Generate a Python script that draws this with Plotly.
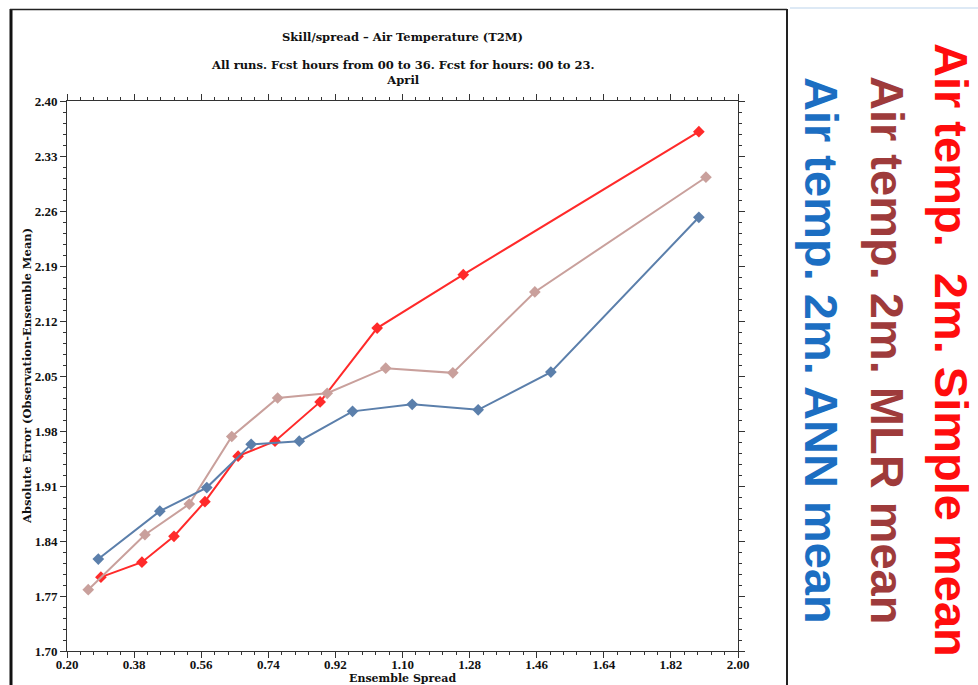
import plotly.graph_objects as go

# Skill/spread relation for 2 m air temperature, three ensemble post-processing methods
simple_spread = [0.291, 0.401, 0.487, 0.570, 0.659, 0.758, 0.879, 1.032, 1.263, 1.895]
simple_error = [1.794, 1.813, 1.846, 1.890, 1.948, 1.967, 2.017, 2.111, 2.179, 2.361]

mlr_spread = [0.257, 0.409, 0.528, 0.642, 0.765, 0.898, 1.055, 1.235, 1.455, 1.914]
mlr_error = [1.778, 1.848, 1.887, 1.973, 2.022, 2.028, 2.060, 2.054, 2.157, 2.303]

ann_spread = [0.284, 0.449, 0.575, 0.694, 0.823, 0.966, 1.126, 1.303, 1.498, 1.895]
ann_error = [1.817, 1.878, 1.908, 1.963, 1.967, 2.005, 2.014, 2.007, 2.055, 2.252]

series_names = ["Air temp.\u00a0\u00a02m. Simple mean", "Air temp. 2m. MLR mean", "Air temp. 2m. ANN mean"]
line_colors = ["#ff2a2a", "#c9a09c", "#5b7fab"]
label_colors = ["#ff0d0d", "#9e3b3b", "#1c6ec2"]

x_ticks = [0.20, 0.38, 0.56, 0.74, 0.92, 1.10, 1.28, 1.46, 1.64, 1.82, 2.00]
y_ticks = [1.70, 1.77, 1.84, 1.91, 1.98, 2.05, 2.12, 2.19, 2.26, 2.33, 2.40]

W, H = 978, 685
L, R, T, B = 67, 738, 101, 651  # plot area in pixels


def px(xp):
    return (xp - L) / (R - L)


def py(yp):
    return (B - yp) / (B - T)


SANS = "Liberation Sans"


def serif(size, family="DejaVu Serif"):
    return dict(family=family, size=size, color="#111111", weight="bold")


fig = go.Figure()
for xs, ys, name, col in zip(
    [simple_spread, mlr_spread, ann_spread],
    [simple_error, mlr_error, ann_error],
    series_names,
    line_colors,
):
    fig.add_trace(
        go.Scatter(
            x=xs, y=ys, mode="lines+markers", name=name,
            line=dict(color=col, width=2),
            marker=dict(symbol="diamond", size=9, color=col),
            showlegend=False,
        )
    )

axis_common = dict(
    showgrid=False, zeroline=False, showline=True, linecolor="#333333", linewidth=1,
    mirror="ticks", ticks="outside", ticklen=6, tickwidth=1, tickcolor="#333333",
    tickfont=serif(13, "Liberation Serif"),
    automargin=False,
)

fig.update_xaxes(
    range=[0.20, 2.00], tickvals=x_ticks, ticktext=[f"{v:.2f}" for v in x_ticks],
    minor=dict(dtick=0.036, tick0=0.20, ticks="outside", ticklen=3, tickcolor="#333333"),
    ticklabelstandoff=-5,
    **axis_common,
)
fig.update_yaxes(
    range=[1.70, 2.40], tickvals=y_ticks, ticktext=[f"{v:.2f}" for v in y_ticks],
    minor=dict(dtick=0.014, tick0=1.70, ticks="outside", ticklen=3, tickcolor="#333333"),
    **axis_common,
)

annotations = [
    dict(text="All runs. Fcst hours from 00 to 36. Fcst for hours: 00 to 23.<br>April",
         x=0.5, y=py(72.5), xref="paper", yref="paper", xanchor="center", yanchor="middle",
         showarrow=False, font=serif(11.5)),
    dict(text="Absolute Error (Observation-Ensemble Mean)", textangle=-90,
         x=px(27), y=py(376), xref="paper", yref="paper", xanchor="center", yanchor="middle",
         showarrow=False, font=serif(11.5)),
    dict(text="Ensemble Spread", x=0.5, y=py(678.5), xref="paper", yref="paper",
         xanchor="center", yanchor="middle", showarrow=False, font=serif(11)),
]

# Rotated series labels in the right-hand panel
for name, col, xc in zip(series_names, label_colors, [952, 888, 822]):
    annotations.append(
        dict(text=f"<b>{name}</b>", textangle=90, x=px(xc), y=py(350),
             xref="paper", yref="paper", xanchor="center", yanchor="middle",
             showarrow=False, font=dict(family=SANS, size=47, color=col))
    )

shapes = [
    # frame around the plot panel
    dict(type="line", xref="paper", yref="paper", x0=px(11), x1=px(11), y0=py(9), y1=py(720),
         line=dict(color="#111111", width=3)),
    dict(type="line", xref="paper", yref="paper", x0=px(10), x1=px(787), y0=py(9.5), y1=py(9.5),
         line=dict(color="#222222", width=1.5)),
    dict(type="line", xref="paper", yref="paper", x0=px(787), x1=px(787), y0=py(9), y1=py(720),
         line=dict(color="#222222", width=2)),
    dict(type="line", xref="paper", yref="paper", x0=px(790), x1=px(978), y0=py(8), y1=py(8),
         line=dict(color="#dde9f5", width=2)),
]

fig.update_layout(
    width=W, height=H,
    margin=dict(l=L, r=W - R, t=T, b=H - B, pad=0),
    paper_bgcolor="white", plot_bgcolor="white",
    title=dict(text="Skill/spread \u2013 Air Temperature (T2M)", x=0.5, xref="paper",
               xanchor="center", y=1 - 37 / H, yanchor="middle", font=serif(11.5)),
    annotations=annotations,
    shapes=shapes,
)

fig.write_html("out.html")
